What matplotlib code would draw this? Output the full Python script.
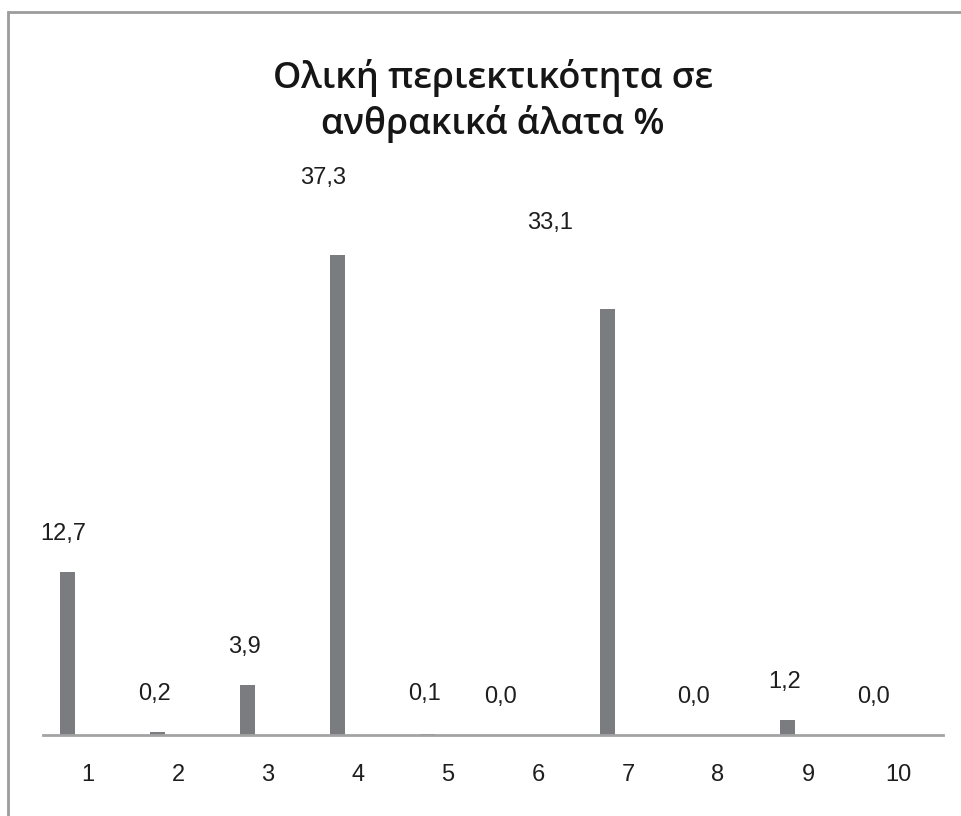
import matplotlib
matplotlib.use("Agg")
import matplotlib.pyplot as plt
from matplotlib.patches import Rectangle

categories = ["1", "2", "3", "4", "5", "6", "7", "8", "9", "10"]
values = [12.7, 0.2, 3.9, 37.3, 0.1, 0.0, 33.1, 0.0, 1.2, 0.0]
title = "Ολική περιεκτικότητα σε\nανθρακικά άλατα %"

# label offsets from the bar top, in pixels (dx, dy)
label_offsets = [(-4, 38), (-3, 38), (-3, 38), (-14, 77), (-3, 40),
                 (-17, 38), (-57, 86), (-4, 38), (-3, 38), (-4, 38)]

W, H, DPI = 962, 816, 100
BAR_COLOR = "#7b7c80"
LINE_COLOR = "#a3a3a3"
TEXT_COLOR = "#1e1e1e"
NUM_FONT = "Liberation Sans"
NUM_SIZE = 17

fig = plt.figure(figsize=(W / DPI, H / DPI), dpi=DPI)
fig.patch.set_facecolor("white")

# outer chart-area frame (only top and left edges fall inside the image)
fig.patches.append(Rectangle((8 / W, -0.1), 1.2, (H - 12) / H + 0.1,
                             transform=fig.transFigure, fill=False,
                             edgecolor="#9c9c9c", linewidth=2))

# plot area: x from 43 to 943 px, baseline at y=735 px, 12.87 px per unit
ymax = 45
px_per_unit = 12.87
ax_left, ax_right, base_y = 43, 943, 735
ax_h = ymax * px_per_unit
ax = fig.add_axes([ax_left / W, (H - base_y) / H, (ax_right - ax_left) / W, ax_h / H])
ax.set_xlim(0.5, len(categories) + 0.5)
ax.set_ylim(0, ymax)

x = list(range(1, len(categories) + 1))
bar_x = [xi - 0.23 for xi in x]
ax.bar(bar_x, values, width=0.165, color=BAR_COLOR, zorder=2)

for bx, v, (dx, dy) in zip(bar_x, values, label_offsets):
    ax.annotate(f"{v:.1f}".replace(".", ","), xy=(bx, v),
                xytext=(dx * 72 / DPI, dy * 72 / DPI), textcoords="offset points",
                ha="center", va="center", fontsize=NUM_SIZE,
                family=NUM_FONT, color=TEXT_COLOR)

for s in ["top", "right", "left"]:
    ax.spines[s].set_visible(False)
ax.spines["bottom"].set_color(LINE_COLOR)
ax.spines["bottom"].set_linewidth(2)
ax.set_yticks([])
ax.set_xticks(x)
ax.set_xticklabels(categories, family=NUM_FONT, fontsize=NUM_SIZE, color=TEXT_COLOR)
ax.tick_params(axis="x", length=0, pad=21)

fig.text(493 / W, 1 - 101 / H, title, ha="center", va="center",
         fontsize=26, family="Open Sans", weight="semibold",
         color="#161616", linespacing=1.3)

fig.savefig("out.png", dpi=DPI)
